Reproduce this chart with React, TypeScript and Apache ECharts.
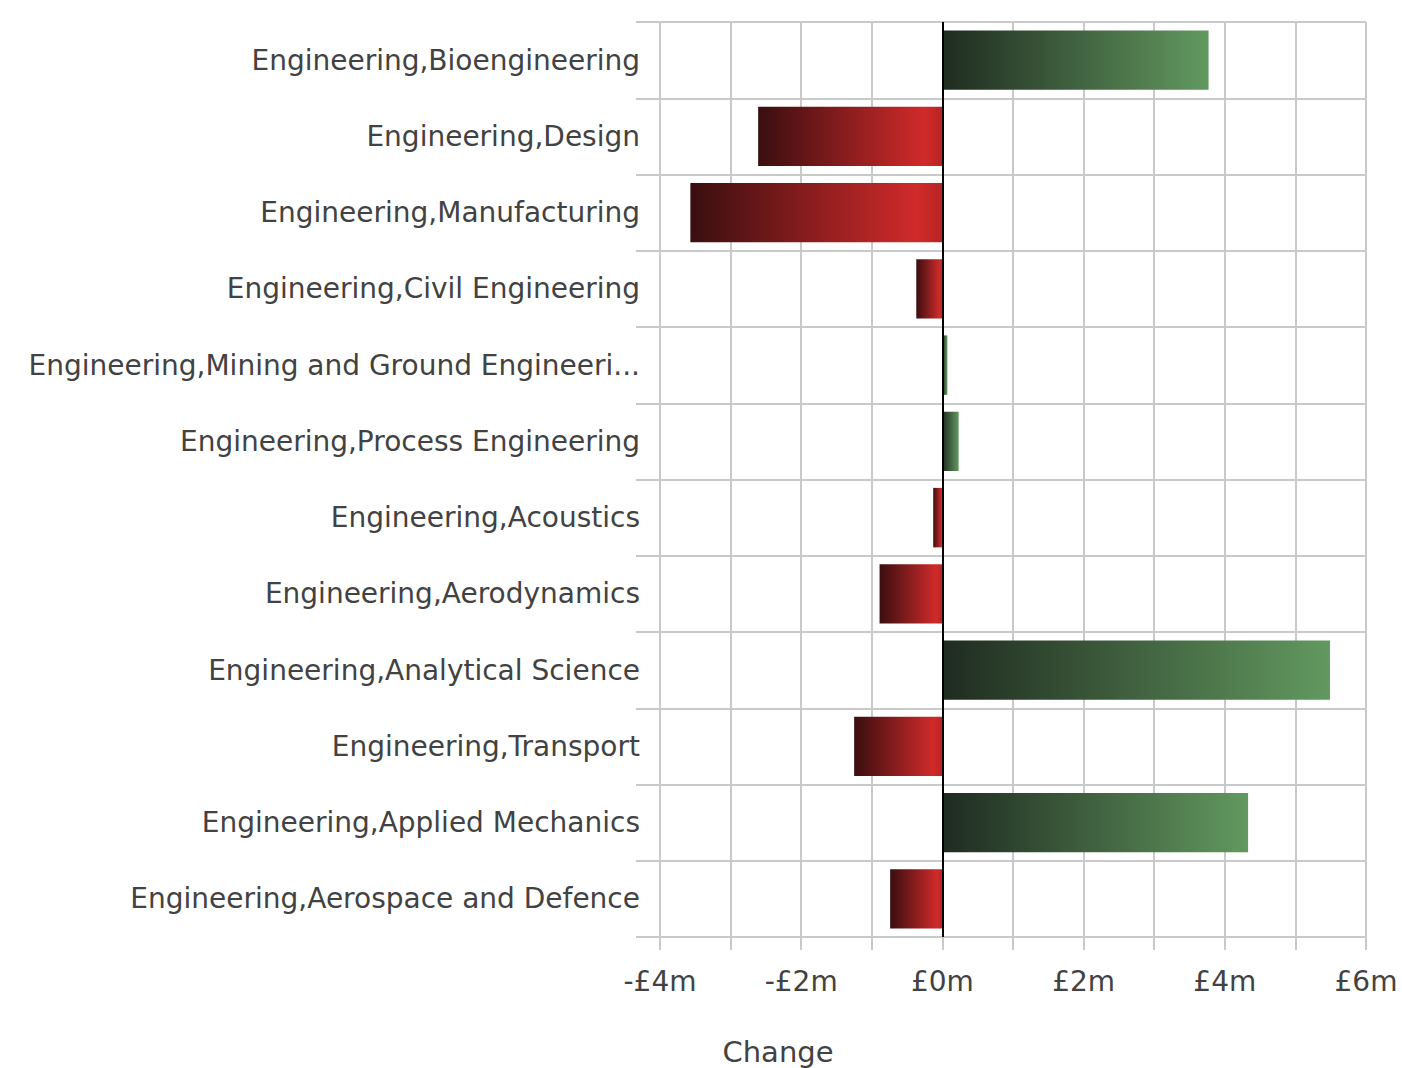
import React, { useEffect, useRef } from "react";
import * as echarts from "echarts";

const categories = [
  "Engineering,Bioengineering",
  "Engineering,Design",
  "Engineering,Manufacturing",
  "Engineering,Civil Engineering",
  "Engineering,Mining and Ground Engineeri...",
  "Engineering,Process Engineering",
  "Engineering,Acoustics",
  "Engineering,Aerodynamics",
  "Engineering,Analytical Science",
  "Engineering,Transport",
  "Engineering,Applied Mechanics",
  "Engineering,Aerospace and Defence",
];

const changeValues = [3.77, -2.61, -3.57, -0.37, 0.07, 0.23, -0.13, -0.89, 5.49, -1.25, 4.33, -0.74];

const xTickLabels: Record<number, string> = {
  [-4]: "-£4m",
  [-2]: "-£2m",
  0: "£0m",
  2: "£2m",
  4: "£4m",
  6: "£6m",
};

const axisTitle = "Change";

const FONT = "'DejaVu Sans', 'Liberation Sans', Arial, sans-serif";
const TEXT = "#424242";
const GRID = "#c9c9c9";

function gradientFor(v: number) {
  const stops =
    v >= 0
      ? [
          { offset: 0, color: "#1f2b20" },
          { offset: 1, color: "#62995f" },
        ]
      : [
          { offset: 0, color: "#3a0e10" },
          { offset: 0.9, color: "#d02a2a" },
          { offset: 1, color: "#b82424" },
        ];
  return new echarts.graphic.LinearGradient(0, 0, 1, 0, stops);
}

export default function App() {
  const ref = useRef<HTMLDivElement>(null);
  useEffect(() => {
    if (!ref.current) return;
    const chart = echarts.init(ref.current, null, { renderer: "svg" });
    chart.setOption({
      animation: false,
      backgroundColor: "#ffffff",
      grid: { left: 660, right: 36, top: 22, bottom: 131, containLabel: false },
      xAxis: {
        type: "value",
        min: -4,
        max: 6,
        interval: 1,
        axisLine: { show: true, onZero: false, lineStyle: { color: GRID, width: 2 } },
        axisTick: { show: true, length: 13, lineStyle: { color: GRID, width: 2 } },
        splitLine: { show: true, lineStyle: { color: GRID, width: 2 } },
        axisLabel: {
          margin: 30,
          fontSize: 28,
          fontFamily: FONT,
          color: TEXT,
          formatter: (v: number) => xTickLabels[v] ?? "",
        },
      },
      yAxis: {
        type: "category",
        inverse: true,
        data: categories,
        axisLine: { show: true, onZero: false, lineStyle: { color: GRID, width: 2 } },
        axisTick: { show: true, length: 24, lineStyle: { color: GRID, width: 2 } },
        splitLine: { show: true, lineStyle: { color: GRID, width: 2 } },
        axisLabel: {
          margin: 20,
          fontSize: 28,
          fontFamily: FONT,
          color: TEXT,
        },
      },
      series: [
        {
          type: "bar",
          barCategoryGap: "22%",
          data: changeValues.map((v) => ({ value: v, itemStyle: { color: gradientFor(v) } })),
          markLine: {
            silent: true,
            symbol: "none",
            label: { show: false },
            lineStyle: { color: "#000000", width: 2, type: "solid" },
            data: [{ xAxis: 0 }],
          },
        },
      ],
      graphic: [
        {
          type: "text",
          x: 778,
          y: 1052,
          style: {
            text: axisTitle,
            fontSize: 29,
            fontFamily: FONT,
            fill: TEXT,
            textAlign: "center",
            textVerticalAlign: "middle",
          },
        },
      ],
    });
    return () => chart.dispose();
  }, []);
  return (
    <div
      ref={ref}
      style={{ position: "fixed", left: 0, top: 0, width: 1402, height: 1068, background: "#fff" }}
    />
  );
}
